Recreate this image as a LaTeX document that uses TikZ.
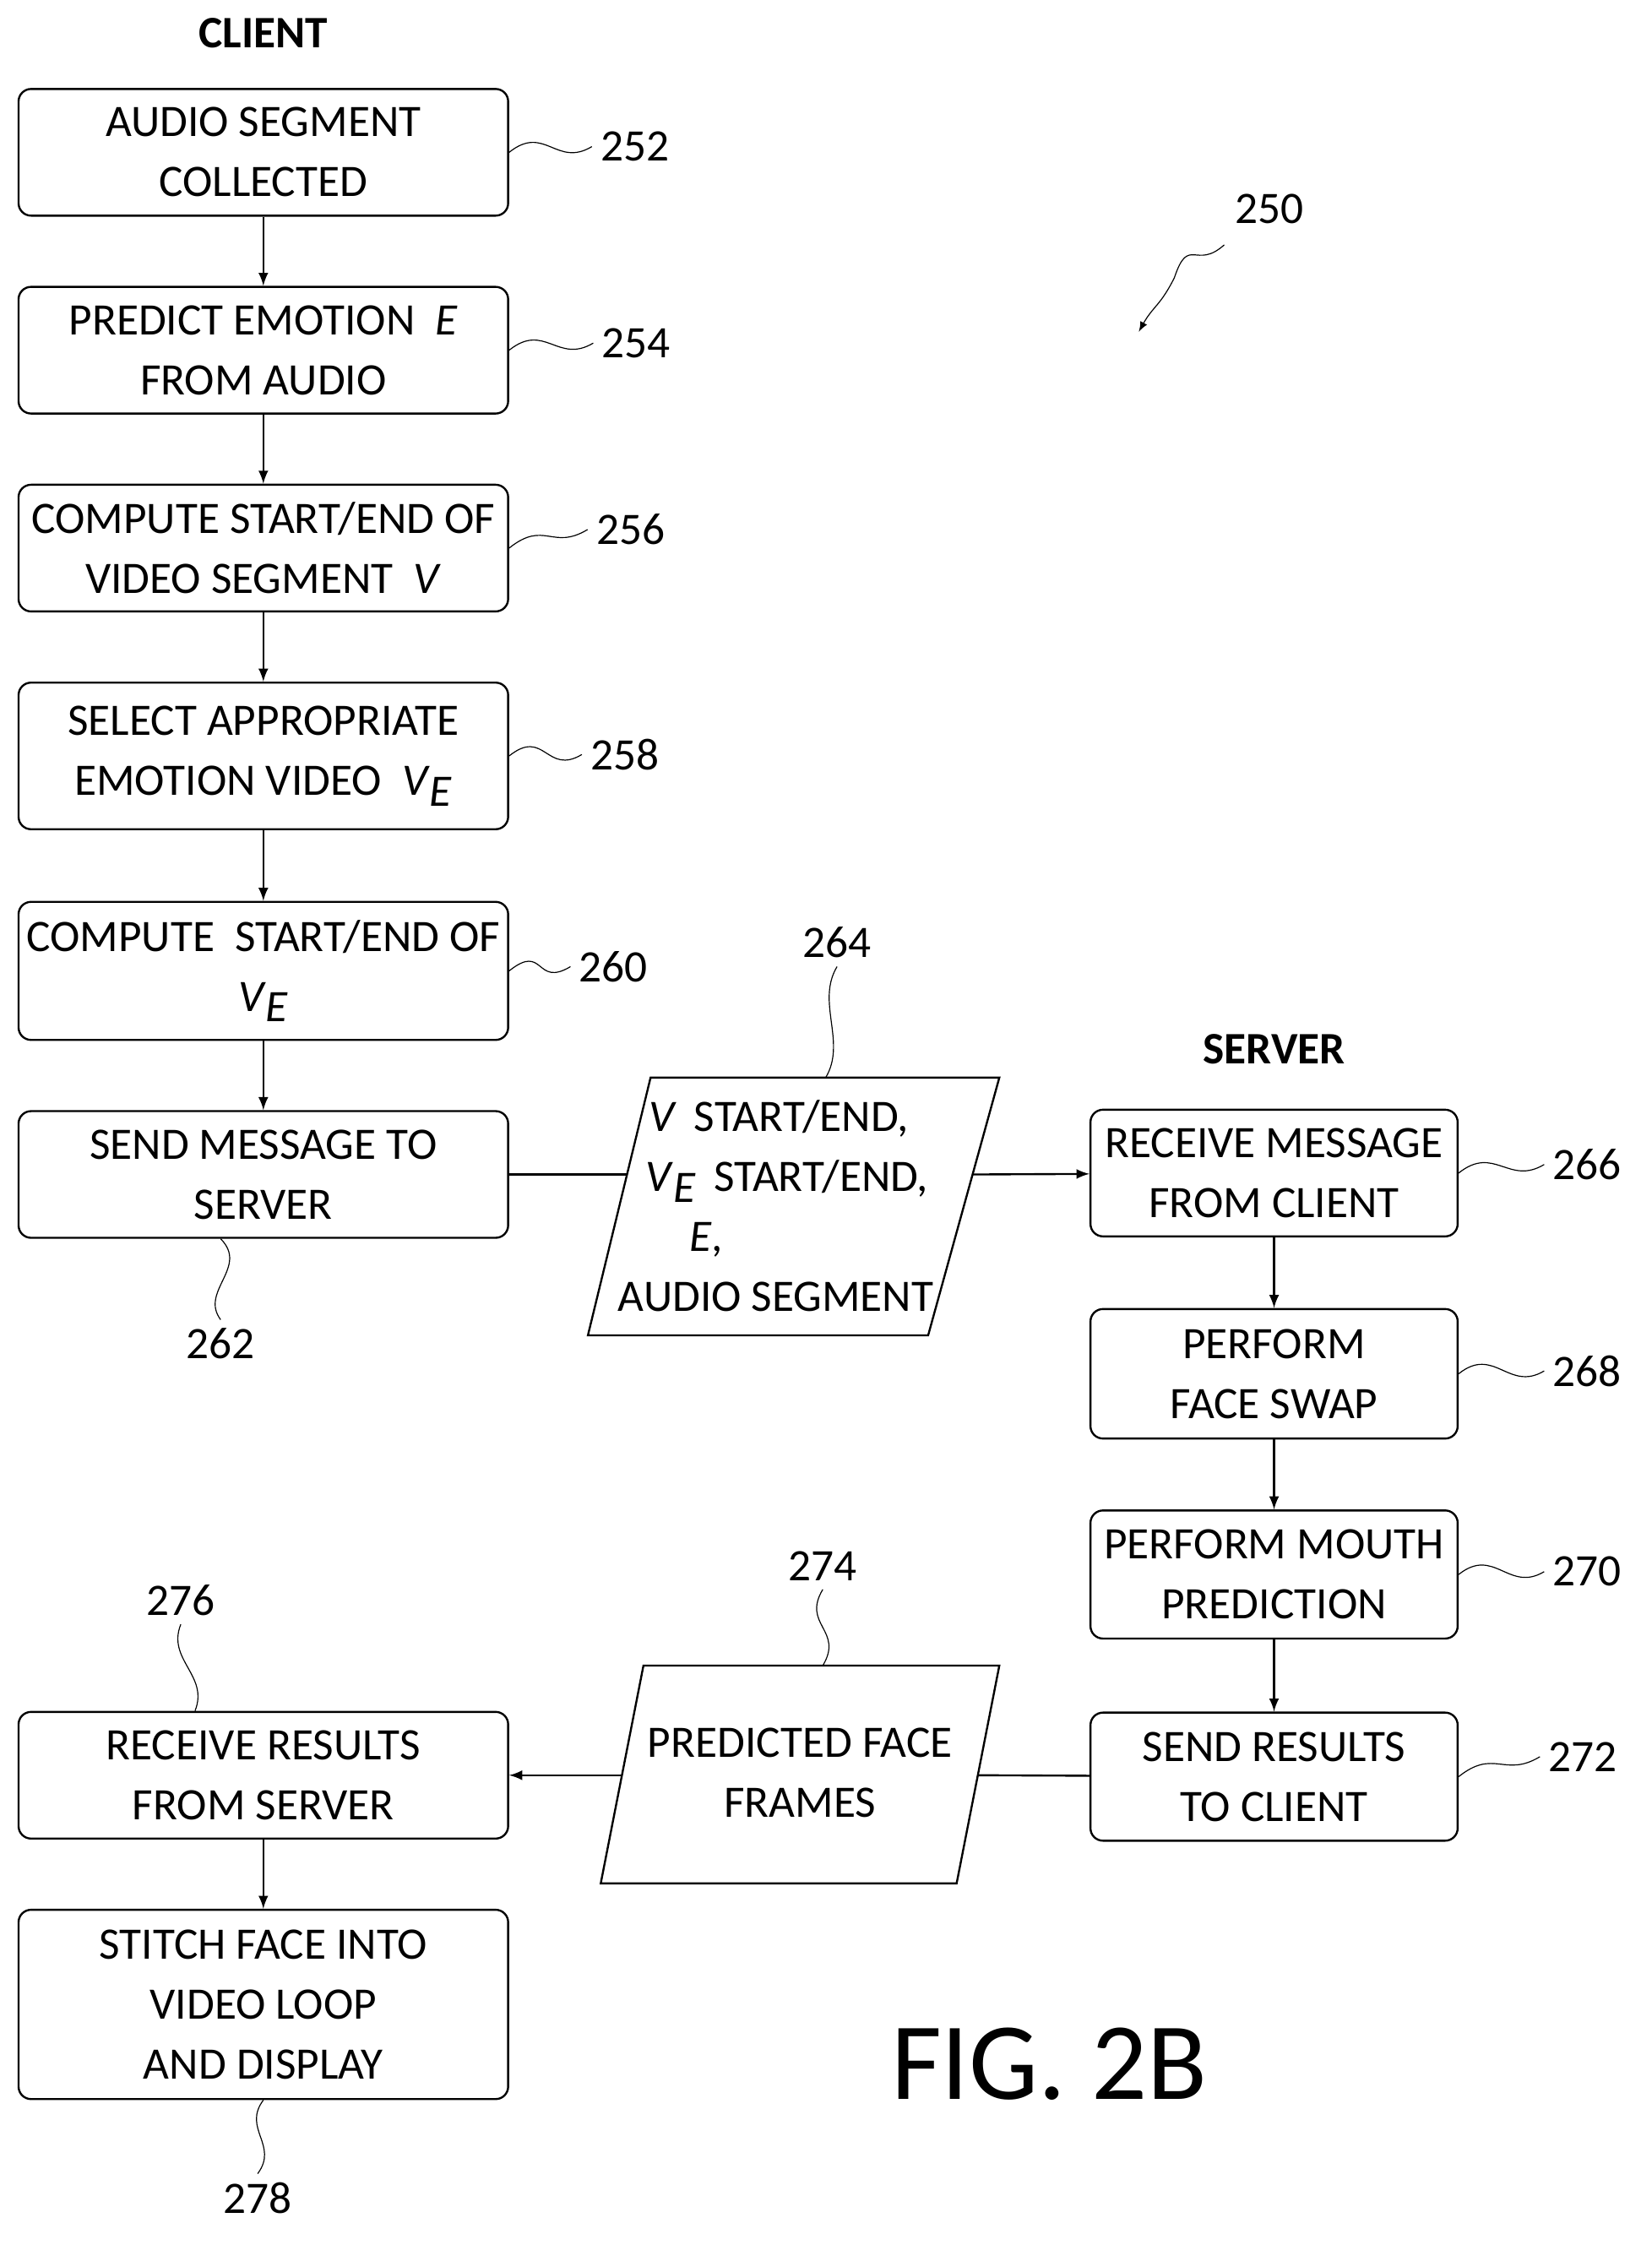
\documentclass[tikz,border=0pt]{standalone}
\usepackage{fontspec}
\setmainfont{Carlito}
\usetikzlibrary{positioning}
\newcommand{\sub}[2]{\textit{#1}\raisebox{-0.5ex}{\textit{#2}}}
\begin{document}
\begin{tikzpicture}
    [
    x=0.02cm,y=-0.02cm,
    every node/.style={font=\fontsize{18}{24}\selectfont},
    block/.style={draw,thick,rounded corners=5pt,minimum width=6.88cm,minimum height=1.78cm,align=center,inner sep=2pt},
    sblock/.style={block,minimum width=5.16cm},
    flow/.style={thick,-latex},
    lead/.style={thin},
    ]
    \useasboundingbox (0,0) rectangle (1160,1577);
    \node (client) at (185,23) {\textbf{CLIENT}};
    \node (server) at (895,737) {\textbf{SERVER}};

    \node (252) at (185,107) [block] {AUDIO SEGMENT\\COLLECTED};
    \node (254) at (185,246) [block] {PREDICT EMOTION \ \textit{E}\\FROM AUDIO};
    \node (256) at (185,385) [block] {COMPUTE START/END OF\\VIDEO SEGMENT \ \textit{V}};
    \node (258) at (185,531) [block,minimum height=2.06cm] {SELECT APPROPRIATE\\EMOTION VIDEO \ \sub{V}{E}};
    \node (260) at (185,682) [block,minimum height=1.94cm] {COMPUTE \ START/END OF\\\sub{V}{E}};
    \node (262) at (185,825) [block] {SEND MESSAGE TO\\SERVER};
    \node (276) at (185,1247) [block] {RECEIVE RESULTS\\FROM SERVER};
    \node (278) at (185,1408) [block,minimum height=2.66cm] {STITCH FACE INTO\\VIDEO LOOP\\AND DISPLAY};

    \node (266) at (895,824) [sblock] {RECEIVE MESSAGE\\FROM CLIENT};
    \node (268) at (895,965) [sblock,minimum height=1.82cm] {PERFORM\\FACE SWAP};
    \node (270) at (895,1106) [sblock,minimum height=1.8cm] {PERFORM MOUTH\\PREDICTION};
    \node (272) at (895,1248) [sblock,minimum height=1.8cm] {SEND RESULTS\\TO CLIENT};

    % parallelograms
    \draw [thick] (457,757) -- (702,757) -- (652,938) -- (413,938) -- cycle;
    \coordinate (264in) at (440,825);
    \coordinate (264out) at (683,825);
    \node (264text) at (545,847) [align=left] {\ \ \ \textit{V} \,START/END,\\\ \ \,\sub{V}{E} \,START/END,\\\ \ \ \ \ \ \ \textit{E},\\AUDIO SEGMENT};
    \draw [thick] (452,1170) -- (702,1170) -- (672,1323) -- (422,1323) -- cycle;
    \coordinate (274in) at (687,1247);
    \coordinate (274out) at (437,1247);
    \node (274text) at (562,1245) [align=center] {PREDICTED FACE\\FRAMES};

    \draw [flow] (252) -- (254);
    \draw [flow] (254) -- (256);
    \draw [flow] (256) -- (258);
    \draw [flow] (258) -- (260);
    \draw [flow] (260) -- (262);
    \draw [thick] (262) -- (264in);
    \draw [flow] (264out) -- (266);
    \draw [flow] (266) -- (268);
    \draw [flow] (268) -- (270);
    \draw [flow] (270) -- (272);
    \draw [thick] (272) -- (274in);
    \draw [flow] (274out) -- (276);
    \draw [flow] (276) -- (278);

    % reference numerals
    \node (n252) at (446,103) {252};
    \node (n254) at (447,241) {254};
    \node (n256) at (443,372) {256};
    \node (n258) at (439,530) {258};
    \node (n260) at (431,679) {260};
    \node (n262) at (155,944) {262};
    \node (n264) at (588,662) {264};
    \node (n266) at (1115,818) {266};
    \node (n268) at (1115,963) {268};
    \node (n270) at (1115,1104) {270};
    \node (n272) at (1112,1234) {272};
    \node (n274) at (578,1100) {274};
    \node (n276) at (127,1124) {276};
    \node (n278) at (181,1544) {278};
    \node (n250) at (892,147) {250};
    \node (fig) at (737,1450) {\fontsize{44}{50}\selectfont FIG. 2B};

    \draw [lead] (252.east) .. controls +(25,-20) and +(-25,15) .. (n252.west);
    \draw [lead] (254.east) .. controls +(25,-20) and +(-25,15) .. (n254.west);
    \draw [lead] (256.east) .. controls +(25,-20) and +(-25,15) .. (n256.west);
    \draw [lead] (258.east) .. controls +(25,-20) and +(-25,15) .. (n258.west);
    \draw [lead] (260.east) .. controls +(25,-20) and +(-25,15) .. (n260.west);
    \draw [lead] (266.east) .. controls +(25,-20) and +(-25,15) .. (n266.west);
    \draw [lead] (268.east) .. controls +(25,-20) and +(-25,15) .. (n268.west);
    \draw [lead] (270.east) .. controls +(25,-20) and +(-25,15) .. (n270.west);
    \draw [lead] (272.east) .. controls +(25,-20) and +(-25,15) .. (n272.west);
    \draw [lead] (262.south-|n262) .. controls +(20,20) and +(-15,-20) .. (n262.north);
    \draw [lead] (n264.south) .. controls +(-15,25) and +(15,-25) .. (580,757);
    \draw [lead] (n274.south) .. controls +(-15,25) and +(15,-25) .. (578,1170);
    \draw [lead] (n276.south) .. controls +(-10,25) and +(10,-25) .. (276.north-|137,0);
    \draw [lead] (278.south) .. controls +(-15,20) and +(15,-20) .. (n278.north);
    \draw [thin,-latex] (860,172) .. controls (840,190) and (835,165) .. (825,195) .. controls (815,215) and (810,215) .. (800,233);
\end{tikzpicture}
\end{document}
